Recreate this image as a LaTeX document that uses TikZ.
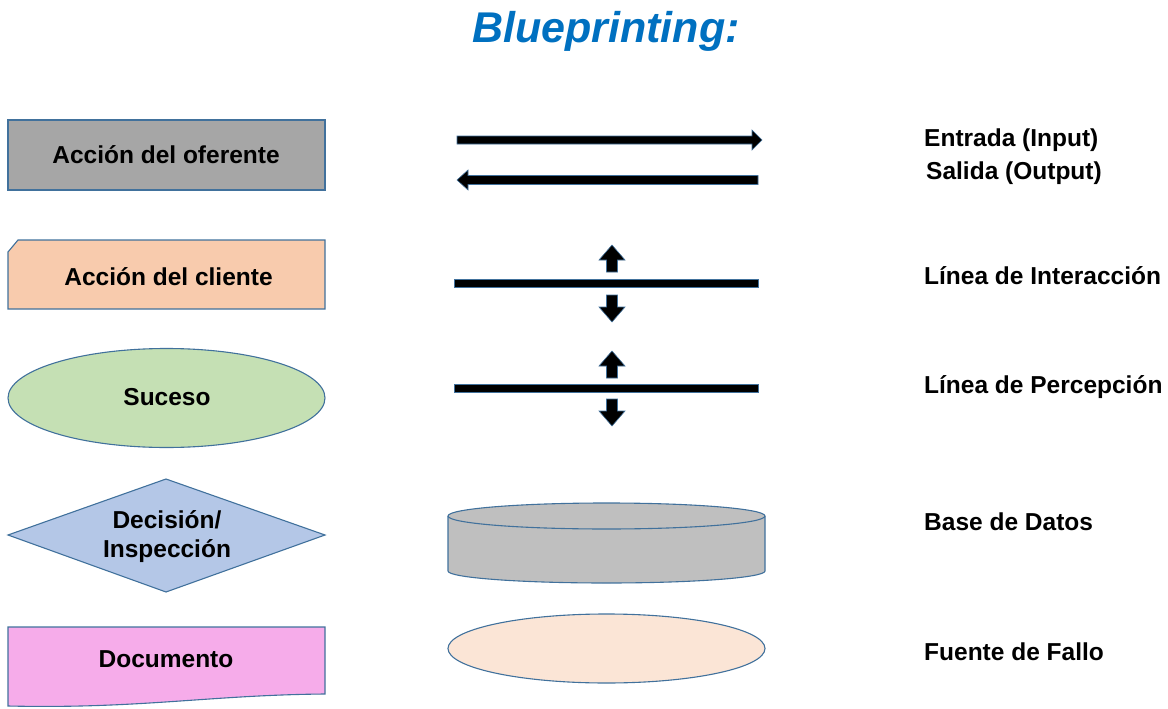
\documentclass[tikz,border=0pt]{standalone}
\usepackage{fontspec}
\setmainfont{Liberation Sans}
\begin{document}
\begin{tikzpicture}[x=1pt,y=-1pt,
  shapeline/.style={draw=bordblue,line width=1.1pt},
  lbl/.style={inner sep=0pt,font=\fontsize{24.5}{29}\selectfont\bfseries,text=black},
  blockarr/.style={fill=black,draw=bordblue,line width=0.6pt},
  uparrow/.pic={\path[blockarr] (-5.5,0) -- (-5.5,-12) -- (-13,-12) -- (0,-27) -- (13,-12) -- (5.5,-12) -- (5.5,0) -- cycle;},
  downarrow/.pic={\path[blockarr] (-5.5,0) -- (-5.5,12) -- (-13,12) -- (0,27) -- (13,12) -- (5.5,12) -- (5.5,0) -- cycle;}
]
\definecolor{bordblue}{HTML}{41719C}
\definecolor{titleblue}{HTML}{0070C0}
\definecolor{grayfill}{HTML}{A6A6A6}
\definecolor{orangefill}{HTML}{F8CBAD}
\definecolor{greenfill}{HTML}{C5E0B4}
\definecolor{bluefill}{HTML}{B4C7E7}
\definecolor{pinkfill}{HTML}{F6ACEA}
\definecolor{cylfill}{HTML}{BFBFBF}
\definecolor{peachfill}{HTML}{FBE5D6}
\useasboundingbox (0,0) rectangle (1168,709);

% title
\node[inner sep=0pt,anchor=base,font=\fontsize{43}{50}\selectfont\bfseries\itshape,text=titleblue] (title) at (606,43) {Blueprinting:};

% left column shapes
\path[shapeline,fill=grayfill] (8,120) rectangle (325,190);
\node[lbl,anchor=base] (oferente) at (166,163) {Acción del oferente};

\path[shapeline,fill=orangefill] (8,252) -- (18,240) -- (325,240) -- (325,309) -- (8,309) -- cycle;
\node[lbl,anchor=base] (cliente) at (168.5,285) {Acción del cliente};

\path[shapeline,fill=greenfill] (166.5,398) ellipse [x radius=158.5,y radius=49.5];
\node[lbl,anchor=base] (suceso) at (167,405) {Suceso};

\path[shapeline,fill=bluefill] (8,535) -- (166,479) -- (325,535) -- (166,592) -- cycle;
\node[lbl,anchor=base] (decision) at (167,528) {Decisión/};
\node[lbl,anchor=base] (inspeccion) at (167,557) {Inspección};

\path[shapeline,fill=pinkfill] (8,627) -- (325,627) -- (325,694) .. controls (210,695) and (140,709) .. (8,706) -- cycle;
\node[lbl,anchor=base] (documento) at (166,667) {Documento};

% middle column
\path[blockarr] (457,136) -- (752,136) -- (752,130) -- (762,140) -- (752,150) -- (752,144) -- (457,144) -- cycle;
\path[blockarr] (758,175.5) -- (468,175.5) -- (468,170) -- (457,180) -- (468,190) -- (468,184.5) -- (758,184.5) -- cycle;

\path[blockarr] (454,279.5) rectangle (758,287.5);
\pic at (612,272) {uparrow};
\pic at (612,295) {downarrow};

\path[blockarr] (454,384) rectangle (758,392);
\pic at (612,378) {uparrow};
\pic at (612,399) {downarrow};

\path[shapeline,fill=cylfill] (448,516) -- (448,571) arc[start angle=180,end angle=0,x radius=158.5,y radius=12] -- (765,516) arc[start angle=0,end angle=-180,x radius=158.5,y radius=13] -- cycle;
\path[shapeline] (448,516) arc[start angle=180,end angle=0,x radius=158.5,y radius=13];

\path[shapeline,fill=peachfill] (606.5,648.5) ellipse [x radius=158.5,y radius=34.5];

% right column labels
\node[lbl,anchor=base west] (entrada) at (924,146) {Entrada (Input)};
\node[lbl,anchor=base west] (salida) at (926,179) {Salida (Output)};
\node[lbl,anchor=base west] (interaccion) at (924,284) {Línea de Interacción};
\node[lbl,anchor=base west] (percepcion) at (924,393) {Línea de Percepción};
\node[lbl,anchor=base west] (datos) at (924,530) {Base de Datos};
\node[lbl,anchor=base west] (fallo) at (924,660) {Fuente de Fallo};
\end{tikzpicture}
\end{document}
